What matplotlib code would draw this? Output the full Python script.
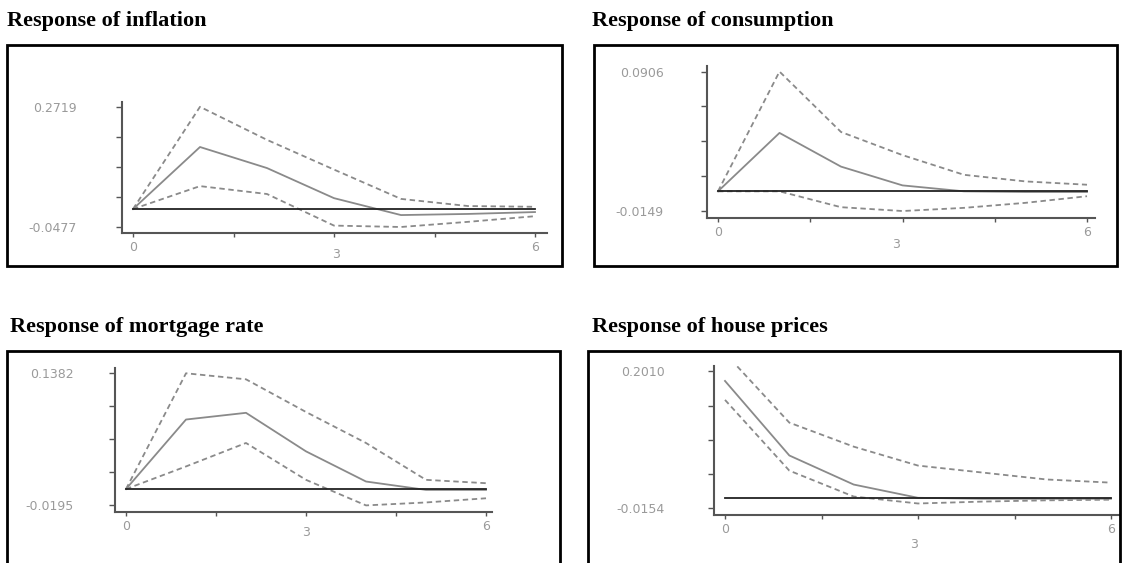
import matplotlib
matplotlib.use('Agg')
import matplotlib.pyplot as plt
from matplotlib.patches import Rectangle

# horizons 0..6
steps = [0, 1, 2, 3, 4, 5, 6]

titles = ['Response of inflation', 'Response of consumption',
          'Response of mortgage rate', 'Response of house prices']

# impulse responses: point estimate and the two bands
infl_mid = [0, 0.165, 0.109, 0.029, -0.016, -0.013, -0.008]
infl_up = [0, 0.2719, 0.184, 0.105, 0.027, 0.008, 0.006]
infl_lo = [0, 0.061, 0.040, -0.044, -0.0477, -0.034, -0.019]

cons_mid = [0, 0.0442, 0.0187, 0.0045, 0.0, -0.0005, -0.0005]
cons_up = [0, 0.0906, 0.0449, 0.0274, 0.0125, 0.0075, 0.0050]
cons_lo = [0, 0, -0.0120, -0.0149, -0.0125, -0.0087, -0.0037]

mort_mid = [0, 0.083, 0.091, 0.045, 0.009, -0.001, -0.001]
mort_up = [0, 0.1382, 0.131, 0.092, 0.055, 0.011, 0.007]
mort_lo = [0, 0.027, 0.055, 0.011, -0.0195, -0.016, -0.011]

house_mid = [0.186, 0.068, 0.022, 0.001, -0.0005, -0.0005, -0.0005]
house_up = [0.230, 0.120, 0.082, 0.052, 0.041, 0.030, 0.025]
house_lo = [0.156, 0.044, 0.003, -0.008, -0.005, -0.003, -0.002]

# y tick labels shown at the ends of each vertical axis
y_ends = [(-0.0477, 0.2719), (-0.0149, 0.0906), (-0.0195, 0.1382), (-0.0154, 0.2010)]

series = [(infl_mid, infl_up, infl_lo), (cons_mid, cons_up, cons_lo),
          (mort_mid, mort_up, mort_lo), (house_mid, house_up, house_lo)]

W, H = 1125, 563
fig = plt.figure(figsize=(W / 100, H / 100), dpi=100)


def frac(x0, y0, x1, y1):
    # pixel box (top-left origin) -> figure fraction rect
    return [x0 / W, 1 - y1 / H, (x1 - x0) / W, (y1 - y0) / H]


# outer boxes, title positions, inner axes (left, top, right, bottom) in pixels
boxes = [(7, 45, 562, 266), (594, 45, 1117, 266), (7, 351, 560, 575), (588, 351, 1120, 575)]
title_xy = [(7, 26), (592, 26), (10, 332), (592, 332)]
inner = [(122, 102, 547, 233), (707, 66, 1095, 218), (115, 368, 492, 512), (714, 366, 1119, 515)]
# pixel positions of step 0 and step 6
x_px = [(133, 535), (718, 1087), (126, 486), (725, 1111)]
# gap (px) between y spine and right edge of its tick labels
y_gap = [44, 42, 40, 48]
# centre of the stray middle label under each x axis
mid_lab = [(336, 254), (896, 245), (306, 532), (914, 545)]

grey = '#8a8a8a'
for i in range(4):
    l, t, r, b = inner[i]
    ax = fig.add_axes(frac(l, t, r, b))
    lo, hi = y_ends[i]
    x0p, x6p = x_px[i]
    ppu = (x6p - x0p) / 6
    ax.set_xlim(-(x0p - l) / ppu, 6 + (r - x6p) / ppu)
    rng = hi - lo
    ax.set_ylim(lo - 0.05 * rng, hi + 0.04 * rng)

    mid, up, low = series[i]
    ax.plot([0, 6], [0, 0], color='#222222', lw=1.3, zorder=3)
    ax.plot(steps, up, color=grey, lw=1.3, ls=(0, (3, 2)))
    ax.plot(steps, low, color=grey, lw=1.3, ls=(0, (3, 2)))
    ax.plot(steps, mid, color=grey, lw=1.3)

    for s in ['top', 'right']:
        ax.spines[s].set_visible(False)
    for s in ['left', 'bottom']:
        ax.spines[s].set_color('#555555')
        ax.spines[s].set_linewidth(1.5)

    yt = [lo + k * rng / 4 for k in range(5)]
    ax.set_yticks(yt)
    ax.set_yticklabels(['%.4f' % lo, '', '', '', '%.4f' % hi])
    ax.set_xticks([0, 1.5, 3, 4.5, 6])
    ax.set_xticklabels(['0', '', '', '', '6'])
    ax.tick_params(axis='y', length=4, width=1, color='#555555',
                   pad=(y_gap[i] - 4) * 0.72, labelsize=9, labelcolor='#9a9a9a')
    ax.tick_params(axis='x', length=3, width=1, color='#555555', pad=3,
                   labelsize=9, labelcolor='#9a9a9a')
    fig.text(mid_lab[i][0] / W, 1 - mid_lab[i][1] / H, '3', fontsize=9,
             color='#9a9a9a', ha='center', va='center')

    fig.text(title_xy[i][0] / W, 1 - title_xy[i][1] / H, titles[i],
             fontsize=16, fontweight='bold', family='Liberation Serif',
             va='baseline', ha='left')

for (x0, y0, x1, y1) in boxes:
    fig.add_artist(Rectangle((x0 / W, 1 - y1 / H), (x1 - x0) / W, (y1 - y0) / H,
                             transform=fig.transFigure, fill=False,
                             edgecolor='black', lw=2, zorder=6))

fig.savefig('out.png', dpi=100)
